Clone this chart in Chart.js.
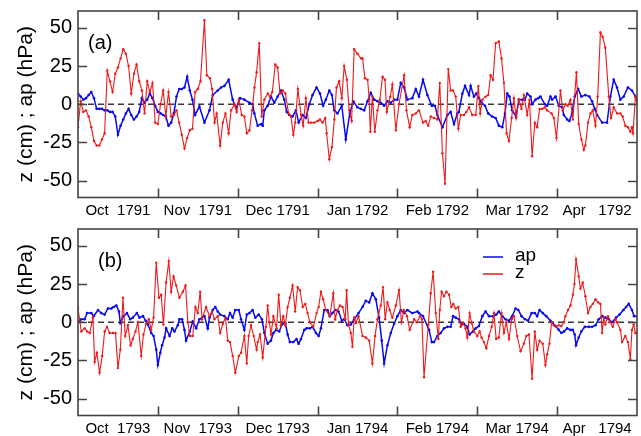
<!DOCTYPE html>
<html>
<head>
<meta charset="utf-8">
<script src="https://cdn.jsdelivr.net/npm/chart.js@4.4.1/dist/chart.umd.min.js"></script>
<style>
  html, body { margin: 0; padding: 0; background: #fff; }
  #wrap { position: relative; width: 641px; height: 436px; }
  canvas { position: absolute; left: 0; }
  #cA { top: 0; }
  #cB { top: 218px; }
</style>
</head>
<body>
<div id="wrap">
  <canvas id="cA" width="641" height="218"></canvas>
  <canvas id="cB" width="641" height="218"></canvas>
</div>
<script>
// axis data
const labelDays = [15, 45, 75, 105, 135, 165, 195];
const monthLabelsA = ['Oct  1791', 'Nov  1791', 'Dec 1791', 'Jan 1792', 'Feb 1792', 'Mar 1792', 'Apr   1792'];
const monthLabelsB = ['Oct  1793', 'Nov  1793', 'Dec 1793', 'Jan 1794', 'Feb 1794', 'Mar 1794', 'Apr   1794'];
const monthTickDays = [30, 60, 90, 120, 150, 180];
const yTickValues = [-50, -25, 0, 25, 50];
const seriesNames = ['ap', 'z'];

// panel (a): [day, value]
const apA = [[0,7],[1,5],[2,3],[3,4],[4,6],[5,8],[6,4],[7,-3],[8,-3],[9,-3],[10,-4],[11,-4],[12,-5],[13,-5],[14,-8],[15,-20],[16,-14],[17,-10],[18,-6],[19,-3],[20,-7],[21,-10],[22,-8],[23,-5],[24,4],[25,1],[26,3],[27,7],[28,4],[29,-1],[30,-5],[31,-6],[32,-7],[33,-8],[34,-14],[35,-12],[36,-6],[37,5],[38,10],[39,10],[40,11],[41,18],[42,9],[43,3],[44,-7],
  [45.6,-1.5],[47.5,-12],[49.4,-4],[50.6,6],[52.5,9],[53.75,11],[55,12],[56.6,16],[58.1,3],[59.4,-2.5],[60.9,4],[62.5,3],[64.4,1],[65.6,0],[66.25,-6],[67.5,-14],[68.75,-13],[69.4,-14],[70,-4],[71.25,-1],[72.5,5],[73.75,1],[75,5],[76.25,9],[77.5,3],[78.4,-5],[79.4,-7],[80.6,-8],[81.9,-4],[82.9,-12],[84.4,-7],[85.6,-9],[86.9,0],[88.1,6],[89.6,11],[90.9,7],[92.1,-1],[93.1,3],[94.4,9],[95.4,6],[96.25,-4],[97.5,-6],[99.1,-1],[100.6,-23],[102.1,-6],[103.4,2],[105,-2],[106.25,-3],[107.5,-4],[108.75,2],[110,7.5],[111.25,3],[112.5,2],[113.75,1],[115,-1],[116.25,2],[117.5,1],[118.75,3],[120,3],[121.25,14],[122.5,11],[123.75,3],[125.6,4],[126.9,10],
  [128.1,5],[129.6,16],[131.25,6],[132.9,-1],[134.1,-1],[135,-7],[136.9,-15],[138.75,-7],[140,-5],[141.25,-13],[142.5,-6],[143.1,-5],[144.4,7],[145.4,12],[146.9,6],[147.5,12],[148.75,5],[149.6,7],[150.6,4],[151.6,1],[152.9,-1],[154.1,-6],[155.6,-8],[156.9,-9],[158.1,-14],[159.4,-15],[160.4,-6],[161.25,7],[162.1,5],[163.1,-4],[164.6,-8],[165.6,3],[166.9,3],[167.9,3],[168.75,7],[170,5],[170.6,0],[171.9,3],[172.9,4],[173.75,5],[175.4,0],[176.25,-1],[177.5,5],[178.1,3],[179.4,5],[180.6,-1],[181.9,-2],[182.5,-7],[183.75,-10],[184.6,-11],[185.6,-6],[186.6,5],[187.9,10],[189.1,5],[190.6,6],[192.1,5],[193.1,2],[194.1,-3],[195,-7],[196.9,-12],[198.75,-12],[200,5],[201.25,16],[202.5,11],[203.75,3],[205,5],[206.6,11],[208.1,9],[209.4,5],[210,3]];

const zA = [[0,-15],[1,2],[2,-5],[3,-4],[4,-8],[5,-15],[6,-24],[7,-27],[8,-27],[9,-23],[10,-19],[11,22],[12,15],[13,8],[14,20],[15,24],[16,30],[17,36],[18,33],[19,25],[20,7],[21,20],[22,26],[23,15],[24,9],[25,-6],[26,15],[27,8],[28,14],[29,-12],[30,-13],[31,0],[32,9],[33,-8],[34,8],[35,-8],[36,-7],[37,-4],[38,-12],[39,-20],[40,-29],[41,-22],[42,-17],[43,-16],[44,8],[45,10],[46,15],
  [47.5,55],[48.4,19],[49.6,17],[50.4,10],[51.3,-12],[52.1,-6],[53.4,-27],[54.4,-12],[55.4,-6],[56.6,-19],[57.5,-4],[58.8,0],[59.6,-5],[60.4,3],[61.5,-7],[62.5,-8],[63.4,-19],[64.4,-17],[65.4,-4],[66.3,11],[67.1,21],[68.1,40],[69,-8],[70,3],[71.3,7],[72.1,5],[73,8],[74.1,26],[75,24],[75.9,7],[76.9,9],[77.9,7],[79.1,-6],[80,-8],[80.9,-20],[81.6,-12],[82.6,10],[83.8,-7],[84.6,-14],[85.6,4],[86.6,-12],[87.5,-12],[88.8,-12],[90,-11],[90.9,-10],[91.9,-12],[92.9,-9],[93.4,-19],[94.4,-36],[95.4,-28],[96.3,-10],[97.1,11],[98.1,15],[99.1,4],[100,25],[101,16],[101.9,-4],[102.8,-11],[103.75,36],[105,33],[106.3,30],[106.9,30],[107.8,17],[108.8,16],[109.4,3],[109.8,-18],[110.6,5],[111.5,-18],[112.5,-4],[113.4,3],[114.4,18],[115.3,16],[116,-5],[117.3,5],[118.1,13],[119.4,-17],[120.6,0],[122.5,19],[123.4,-4],[124.6,-15],[125.6,-7],[126.9,-6],
  [128.1,-4],[129.6,-12],[130.6,-11],[131.6,-14],[132.5,-8],[133.75,-9],[135,-10],[135.9,14],[136.9,-32],[137.9,-52],[139.1,23],[140,9],[140.9,9],[141.9,5],[142.9,-16],[143.75,-7],[145,-7],[145.9,-5],[146.9,-2],[148.1,-7],[149.4,-7],[150.4,12],[151.1,-6],[151.9,3],[153.1,5],[154.1,6],[155,19],[155.9,16],[156.9,40],[158.1,41],[159.1,30],[160,14],[161,-19],[161.9,-24],[162.9,-9],[163.75,4],[164.6,-9],[165.6,3],[166.6,-3],[167.5,6],[168.75,-7],[169.6,3],[170.6,-34],[171.6,-12],[172.5,-15],[173.4,-3],[174.4,-3],[175.4,-2],[176.25,-4],[177.9,-6],[178.75,-9],[179.75,-22],[181.25,9],[182.1,-4],[183.1,0],[184,-1],[185,3],[185.9,-10],[187.25,21],[188.1,-13],[189.1,-23],[190,-30],[190.6,-27],[191.6,-12],[192.5,-6],[193.4,-4],[194.4,-14],[195.25,5],[196.25,47],[197.1,44],[198.1,37],[199.4,5],[200.25,-9],[201.25,-2],[202.5,-6],[203.75,-6],[204.6,-8],[205.6,-14],[206.6,-15],[207.5,-18],[208.1,-15],[208.5,-19],[209.4,5],[210,1]];

// panel (b)
const apB = [[0.4,0.5],[1.25,2],[2.5,2],[3.4,6],[5,6],[5.9,4],[7.5,8],[8.75,6],[10,5],[11.25,9],[12.5,9],[13.4,10],[14.4,11],[15.4,7],[15.9,-0.5],[17.1,4],[18.4,6],[19.6,2],[20.6,3],[22.1,6],[23.1,3],[24.4,4],[25.4,1],[26.25,-1.5],[27.5,-7],[28.4,-9],[29.4,-18],[30,-28],[30.9,-20],[31.6,-15],[32.5,-10],[33.1,-4],[34.4,-9],[35.4,-4],[36.25,-6],[37.5,-2],[38.1,2],[39.1,2],[40,-5],[40.6,-12],[42,-6],[43.1,0.5],[44.4,-4],[45.6,2],[47.5,4],[48.75,-4],[49.4,3],[50.6,8],[51.6,10],[52.5,7],[53.4,5],[55,4],[56.25,2],[57.1,6],[58.1,3],[59.1,8],[60.4,8],[61.25,2],[62.5,-5],[63.4,5],[64.4,6],[65.6,8],[66.6,3],[67.9,5],[69.1,2],[70,-7],[71.25,-14],[72.5,-12],[73.4,-7],[74.4,-5],[75.6,-6],[76.6,-1.5],[77.9,-0.5],[78.75,-8],[79.6,-13],[80.9,-13],[82.1,-11],[82.9,-14],[83.75,-11],[85,-5],[85.9,-4],[87.1,-4],[88.1,-3],[89.4,-7],[90.4,-9],[91.25,-4],[92.5,8],[93.75,8],[94.6,4],[95.6,6],[96.6,8],[97.9,7],[99.1,1],[100,2],[101.25,-2],[102.5,-1.5],[103.75,2],[105.4,6],[106.9,10],[108.1,14],[109.4,13],[110.6,19],[111.9,15],[113.1,3],[114.1,-12],[115,-27],[116.25,-15],[117.5,-7],[118.75,-1],[120,4],[121.25,8],[122.5,6],[123.75,8],[125.6,6],[127.5,7],
  [128.1,6],[129.6,4],[131.9,-5],[132.9,-13],[133.75,-13],[135,-9],[136.25,-7],[137.5,-4],[138.75,-3],[140,-3],[140.9,4],[141.9,3],[143.1,2],[144.1,-1.5],[145,-1],[146.25,-3],[147.1,-8],[148.4,-6],[149.4,-4],[150.6,-2.5],[151.9,4],[153.1,7],[154.4,4],[155.9,4],[157.1,5],[158.1,7],[159.4,4],[160.6,2],[161.9,1],[163.1,4],[164.4,9],[165.4,8],[166.6,4],[167.9,2],[169.1,1],[170.4,6],[171.6,6],[172.5,4],[173.4,8],[174.6,6],[175.9,4],[177.5,1],[178.4,-0.5],[179.4,-2.5],[180.6,-5],[181.6,-7],[182.6,-6],[183.75,-4],[185,-5],[185.9,-5],[186.6,-8],[187.1,-15],[188.1,-10],[189.1,-6],[190.4,-3],[191.9,-3],[193.1,-3],[194.4,-2],[195.6,2],[196.9,4],[198.1,3],[199.4,2],[200.6,0],[202.1,3],[203.4,5],[204.9,8],[205.9,10],[206.9,12],[208.1,8],[208.9,4],[210,4]];

const zB = [[0,9],[1.25,-6],[2.5,-4],[3.4,-6],[4.4,-7],[5.6,3],[6.25,-26],[7.1,-20],[8.1,-33],[9.1,-22],[10,-6],[10.9,-3],[11.9,-7],[13.1,-7],[14.1,-7],[15,-30],[15.9,-18],[16.9,16],[17.75,-9],[18.75,-2],[19.75,-15],[20.6,-11],[21.6,-6],[22.5,0],[23.75,-22],[24.6,-8],[25.6,-1],[26.6,2],[27.5,-5],[28.4,3],[29.4,39],[30.4,16],[31.25,18],[32.1,-1.5],[33.1,26],[34.1,40],[35,20],[35.9,30],[36.9,24],[38.1,16],[39.4,20],[40.4,24],[41.25,0],[42.1,-9],[43.1,-9],[44.1,10],[45,6],[45.9,20],[46.6,2],[48.1,10],[49.4,4],[50.4,7],[51.25,2],[52.5,4],[53.4,-7],[54.4,-1],[55.4,3],[56.25,-12],[57.1,-13],[58.1,-22],[59.1,-33],[60.4,-22],[61.25,-20],[62.5,-9],[63.4,-27],[64.1,-9],[65,-2],[66,-9],[67.1,-18],[67.5,-13],[68.4,-8],[69.4,-23],[70.6,-3],[71.25,11],[71.9,0],[72.5,-8],[73.4,4],[74.6,-4],[75.4,18],[76.25,-2],[77.1,4],[77.9,-2],[78.75,10],[79.6,16],[80.6,24],[81.6,7],[82.5,23],[83.4,21],[84.4,10],[85.4,12],[86.25,6],[87.1,0],[88.4,-3],[89.6,6],[90.4,10],[91.25,20],[92.1,15],[93.1,8],[94.6,4],[95.9,19],[96.6,2],[97.5,8],[98.4,11],[99.4,10],[100.4,2],[100.9,21],[101.6,-1.5],[102.5,-7],[103.1,-16],[103.75,3],[104.4,-0.5],[105.4,4],[106.9,-9],[108.1,-10],[109.4,-12],[110.6,-27],[111.6,-9],[112.5,2],[113.75,11],[114.6,23],[115.4,2],[116.25,13],[117.1,8],[118.1,3],[119.4,11],[120.6,21],[121.5,0],[122.4,8],[123.6,4],[124.6,-5],[126.25,2],[127.25,0],[128.5,4],
  [129.2,2],[130,-36],[131.6,-1.5],[132.5,19],[133.4,33],[134.4,6],[135.4,-11],[135.9,8],[136.6,20],[137.5,17],[138.4,20],[139.4,18],[140.25,10],[141,12],[141.9,9],[142.9,10],[143.75,-3],[144.6,-0.5],[145.6,-4],[146.25,-10],[147.1,6],[147.9,-0.5],[148.75,-6],[150,-9],[150.9,-6],[151.6,-10],[152.5,-13],[153.4,-17],[154.4,-9],[155.4,-3],[156.25,6],[157.1,-11],[158.1,-10],[159.1,6],[160,-7],[160.9,0],[161.9,-11],[162.9,2],[163.75,4],[165,-9],[166.25,-19],[167.5,-14],[168.4,-9],[169.4,-8],[170.6,-37],[171.6,-6],[172.5,-18],[173.4,-12],[174.6,-14],[175.6,-28],[176.25,-21],[177.1,-14],[177.9,0],[178.75,-2],[179.6,-3],[180.6,-2],[181.6,-2.5],[182.5,0],[183.1,4],[184.1,8],[185,11],[185.9,18],[186.5,25],[187.1,41],[188.1,30],[188.75,22],[189.6,26],[190.6,17],[191.6,6],[192.5,10],[193.4,12],[194.4,15],[195.4,13],[196.25,12],[196.9,-7],[197.5,3],[198.1,-1.5],[199.1,4],[200,0],[200.9,-3],[201.9,2],[202.5,0],[203.75,-5],[204.4,-13],[205.6,-9],[206.6,-13],[207.5,-24],[208.1,-5],[208.75,-1.5],[209.4,-7],[210,-7]];

const FONT = "'Liberation Sans', Arial, Helvetica, sans-serif";
Chart.defaults.font.family = FONT;
Chart.defaults.color = '#000';

const BLUE = '#0808f0';
const RED = '#f01818';

// frame, inward ticks, panel tag, legend
const framePlugin = {
  id: 'frame',
  afterDatasetsDraw(chart, args, opts) {
    const { ctx, chartArea: a, scales: { x, y } } = chart;
    ctx.save();
    ctx.strokeStyle = '#444';
    ctx.lineWidth = 1.6;
    ctx.strokeRect(a.left, a.top, a.width, a.height);
    ctx.beginPath();
    monthTickDays.forEach(d => {
      const px = Math.round(x.getPixelForValue(d)) + 0.5;
      ctx.moveTo(px, a.bottom); ctx.lineTo(px, a.bottom - 9);
      ctx.moveTo(px, a.top); ctx.lineTo(px, a.top + 9);
    });
    yTickValues.forEach(v => {
      const py = Math.round(y.getPixelForValue(v)) + 0.5;
      ctx.moveTo(a.left, py); ctx.lineTo(a.left + 9, py);
      ctx.moveTo(a.right, py); ctx.lineTo(a.right - 9, py);
    });
    ctx.stroke();

    ctx.fillStyle = '#000';
    ctx.font = '20px ' + FONT;
    ctx.textBaseline = 'middle';
    ctx.textAlign = 'left';
    ctx.fillText(opts.tag, a.left + opts.tagDx, a.top + 32);

    if (opts.legend) {
      const colors = [BLUE, RED];
      ctx.font = '19px ' + FONT;
      seriesNames.forEach((name, i) => {
        const ly = a.top + 28 + i * 17;
        ctx.strokeStyle = colors[i];
        ctx.lineWidth = 1.5;
        ctx.beginPath();
        ctx.moveTo(a.left + 405, ly); ctx.lineTo(a.left + 425, ly);
        ctx.stroke();
        ctx.fillText(name, a.left + 437, ly - 1);
      });
    }
    ctx.restore();
  }
};

function makeChart(id, ap, z, monthLabels, tag, tagDx, legend) {
  const toXY = arr => arr.map(([d, v]) => ({ x: d, y: v }));
  return new Chart(document.getElementById(id), {
    type: 'line',
    data: {
      datasets: [
        { label: 'z', data: toXY(z), borderColor: RED, backgroundColor: RED, borderWidth: 1.1,
          pointRadius: 1.2, pointBorderWidth: 0, tension: 0, order: 1 },
        { label: 'ap', data: toXY(ap), borderColor: BLUE, backgroundColor: BLUE, borderWidth: 1.5,
          pointRadius: 1.3, pointBorderWidth: 0, tension: 0, order: 2 },
        { label: 'zero', data: [{ x: 0, y: 0 }, { x: 210, y: 0 }], borderColor: '#3a3a3a', borderWidth: 1.5,
          borderDash: [6, 4], pointRadius: 0, order: 3 }
      ]
    },
    options: {
      responsive: false,
      animation: false,
      devicePixelRatio: 1,
      layout: { padding: { top: 11, right: 3, left: 0, bottom: 0 } },
      plugins: {
        legend: { display: false },
        tooltip: { enabled: false },
        frame: { tag, tagDx, legend }
      },
      scales: {
        x: {
          type: 'linear', min: 0, max: 210,
          grid: { display: false, drawTicks: false },
          border: { display: false },
          afterFit: s => { s.height = 20.5; s.paddingLeft = 0; s.paddingRight = 0; },
          afterBuildTicks: s => { s.ticks = labelDays.map(v => ({ value: v })); },
          ticks: {
            autoSkip: false, maxRotation: 0, minRotation: 0, padding: 4,
            font: { size: 15 },
            callback: (v) => monthLabels[labelDays.indexOf(v)]
          }
        },
        y: {
          min: -61, max: 61,
          grid: { display: false, drawTicks: false },
          border: { display: false },
          afterFit: s => { s.width = 78; s.paddingTop = 0; s.paddingBottom = 0; },
          afterBuildTicks: s => { s.ticks = yTickValues.map(v => ({ value: v })); },
          ticks: { padding: 6, font: { size: 20 } },
          title: { display: true, text: 'z (cm) ; ap (hPa)', font: { size: 21 }, padding: { top: 14, bottom: 0 } }
        }
      }
    },
    plugins: [framePlugin]
  });
}

makeChart('cA', apA, zA, monthLabelsA, '(a)', 10, false);
makeChart('cB', apB, zB, monthLabelsB, '(b)', 20, true);
</script>
</body>
</html>
